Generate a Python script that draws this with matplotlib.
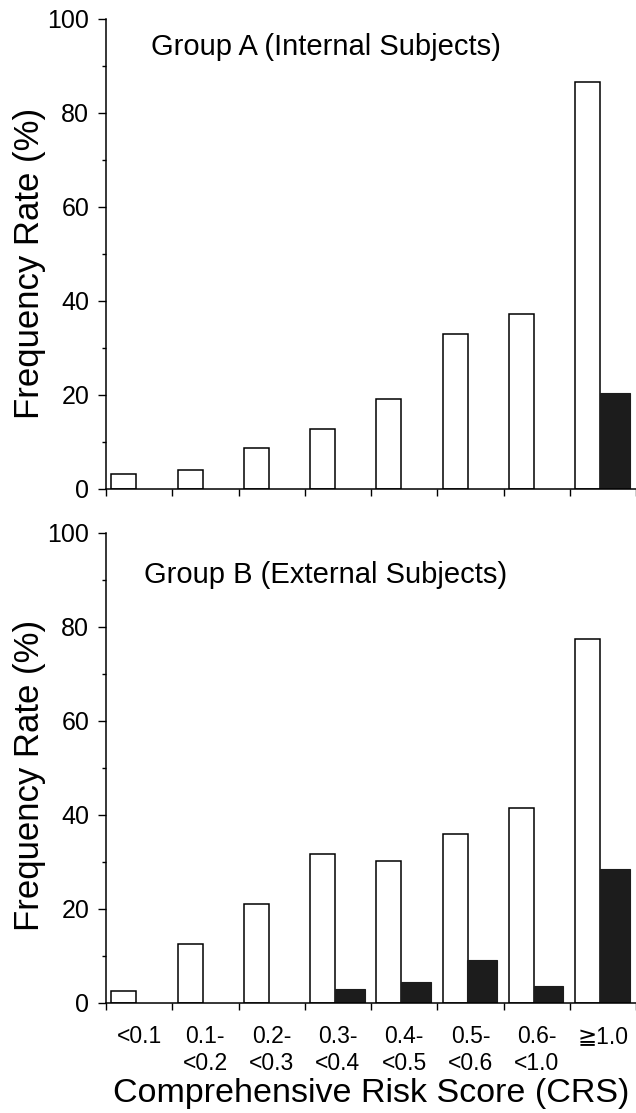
import matplotlib
matplotlib.use("Agg")
import matplotlib.pyplot as plt
from matplotlib.ticker import MultipleLocator
import numpy as np

plt.rcParams['font.family'] = ['Liberation Sans', 'DejaVu Sans']

categories = ["<0.1", "0.1-\n<0.2", "0.2-\n<0.3", "0.3-\n<0.4", "0.4-\n<0.5",
              "0.5-\n<0.6", "0.6-\n<1.0", "\u2267" + "1.0"]
groupA_white = [3.2, 4.0, 8.7, 12.8, 19.1, 33.0, 37.2, 86.5]
groupA_black = [0, 0, 0, 0, 0, 0, 0, 20.4]
groupB_white = [2.5, 12.6, 21.0, 31.8, 30.2, 36.0, 41.5, 77.5]
groupB_black = [0, 0, 0, 3.0, 4.4, 9.2, 3.7, 28.5]
titles = ["Group A (Internal Subjects)", "Group B (External Subjects)"]

fig = plt.figure(figsize=(6.36, 11.13), dpi=100)
ax1 = fig.add_axes([106/636, 1 - 489/1113, 530/636, 470/1113])
ax2 = fig.add_axes([106/636, 1 - 1003/1113, 530/636, 470/1113])

x = np.arange(len(categories))
w_white = 0.375
w_black = 0.45
off_white = 0.083
off_black = 0.455

def draw(ax, white, black, title, ty, ly):
    ax.bar(x + off_white, white, width=w_white, align='edge', color='white',
           edgecolor='black', linewidth=1.1, zorder=2)
    bx = [xi for xi, v in zip(x, black) if v > 0]
    bv = [v for v in black if v > 0]
    ax.bar(np.array(bx) + off_black, bv, width=w_black, align='edge',
           color='#1c1c1c', edgecolor='#1c1c1c', linewidth=0.8, zorder=2)
    ax.set_xlim(0, 8)
    ax.set_ylim(0, 100)
    ax.spines['top'].set_visible(False)
    ax.spines['right'].set_visible(False)
    for s in ('left', 'bottom'):
        ax.spines[s].set_linewidth(1.1)
    ax.yaxis.set_major_locator(MultipleLocator(20))
    ax.yaxis.set_minor_locator(MultipleLocator(10))
    ax.set_xticks(np.arange(0, 9))
    ax.tick_params(axis='y', which='major', direction='out', length=6, width=1.0,
                   labelsize=18, pad=6)
    ax.tick_params(axis='y', which='minor', direction='out', length=3, width=1.0)
    ax.tick_params(axis='x', which='major', direction='out', length=5, width=1.0)
    ax.set_xticklabels([])
    ax.set_ylabel("Frequency Rate (%)", fontsize=25)
    ax.yaxis.set_label_coords(-0.113, ly)
    ax.text(0.415, ty, title, transform=ax.transAxes, ha='center', va='center',
            fontsize=21)

draw(ax1, groupA_white, groupA_black, titles[0], 0.94, 0.48)
draw(ax2, groupB_white, groupB_black, titles[1], 0.91, 0.485)

ax2.set_xticks(x + 0.5, minor=True)
ax2.set_xticklabels(categories, minor=True, fontsize=16.5, linespacing=1.2, va='top')
ax2.tick_params(axis='x', which='minor', length=0, pad=16)
ax2.set_xlabel("Comprehensive Risk Score (CRS)", fontsize=24.5, va='top')
ax2.xaxis.set_label_coords(0.5, -0.160)

fig.savefig("out.png", dpi=100)
